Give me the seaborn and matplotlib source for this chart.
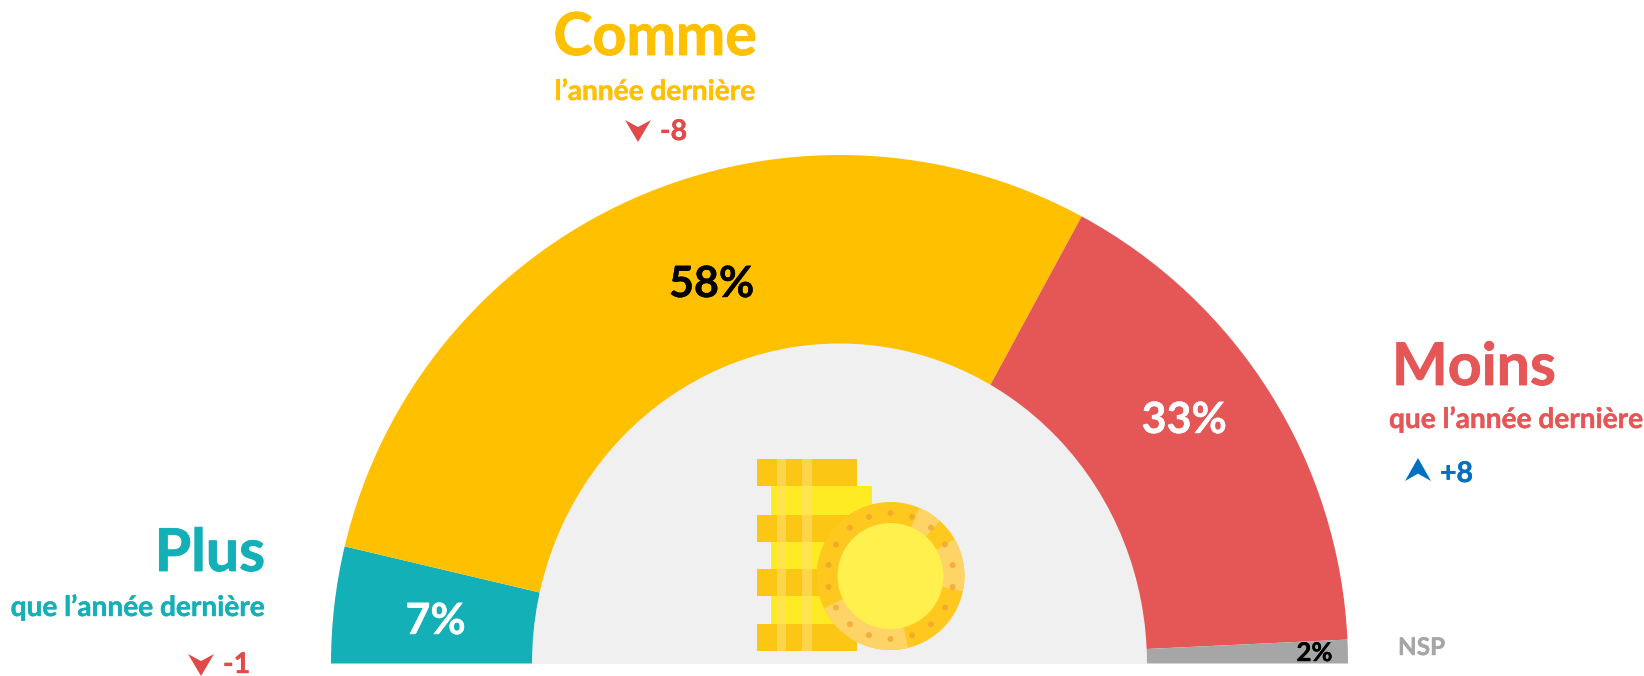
import numpy as np
import pandas as pd
import seaborn as sns
import matplotlib.pyplot as plt
import matplotlib.patheffects as pe
from matplotlib.patches import Circle, Ellipse, Polygon, Rectangle, Wedge

# ---- Data ----
categories = ["Plus", "Comme", "Moins", "NSP"]
shares = [7.4, 58.4, 32.7, 1.5]  # arc shares
pct_labels = ["7%", "58%", "33%", "2%"]
sub_labels = ["que l’année dernière", "l’année dernière", "que l’année dernière", ""]
deltas = ["-1", "-8", "+8", ""]

df = pd.DataFrame({"category": categories, "share": shares})

sns.set_theme(style="white")
plt.rcParams["font.family"] = ["Lato", "DejaVu Sans"]
plt.rcParams["font.weight"] = "bold"

colors = sns.color_palette(["#13B0B8", "#FFC000", "#E55757", "#A6A6A6"])
RED_ARROW = "#E24A4A"
BLUE = "#0070C0"
H = 676


def py(y):
    # reference pixels are measured from the top
    return H - y


fig = plt.figure(figsize=(16.44, 6.76), dpi=100)
ax = fig.add_axes([0, 0, 1, 1])

# half gauge: the shares fill half of the pie
cx, base, R = 839.5, 663.5, 508.5
ax.pie(df["share"] / 200, colors=colors, startangle=180, counterclock=False,
       normalize=False, radius=R, center=(cx, py(base)), frame=False,
       wedgeprops={"linewidth": 0})
ax.set_xlim(0, 1644)
ax.set_ylim(0, H)
ax.set_aspect("equal")
ax.axis("off")

# inner dial is slightly taller than wide
inner = Ellipse((cx, py(base)), 615, 640, fc="#F0F0F0", ec="none", zorder=3)
ax.add_patch(inner)
inner.set_clip_path(Rectangle((0, py(base)), 1644, H, transform=ax.transData))

# ---- Coins icon ----
stack_dark = "#FBC614"
stack_light = "#FFEB24"
for y0, y1 in [(486, 515), (542, 569), (596, 624)]:
    ax.add_patch(Rectangle((771, py(y1)), 101, y1 - y0, fc=stack_light, ec="none", zorder=4))
for y0, y1 in [(459, 486), (515, 542), (569, 596), (624, 651)]:
    ax.add_patch(Rectangle((757, py(y1)), 100, y1 - y0, fc=stack_dark, ec="none", zorder=4))
for x0, w in [(777, 9), (802, 10)]:
    ax.add_patch(Rectangle((x0, py(651)), w, 192, fc="#FFE070", ec="none", alpha=0.6, zorder=4))

coin = (890.5, py(576))
ax.add_patch(Circle(coin, 74, fc="#FFC81E", ec="none", zorder=5))
for a0, a1 in [(-12, 30), (48, 67), (206, 284)]:
    ax.add_patch(Wedge(coin, 74, a0, a1, fc="#FFD466", ec="none", zorder=5))
for a in np.arange(10, 370, 20):
    ax.add_patch(Circle((coin[0] + 63 * np.cos(np.radians(a)), coin[1] + 63 * np.sin(np.radians(a))),
                        3, fc="#F0A030", ec="none", alpha=0.7, zorder=6))
ax.add_patch(Circle(coin, 53, fc="#FFF04D", ec="none", zorder=7))


def label(x, y, s, size, color, ha="left", stroke=0.3):
    # Lato bold is lighter than the reference face, thicken it a little
    ax.text(x, py(y), s, fontsize=size, color=color, ha=ha, va="baseline", zorder=8,
            path_effects=[pe.withStroke(linewidth=stroke, foreground=color)])


def arrow(x, y0, y1, w, color):
    # navigation style arrow, tip at y1, notch near y0
    notch = y0 + (y1 - y0) * 0.32
    pts = [(x - w, y0), (x, notch), (x + w, y0), (x, y1)]
    ax.add_patch(Polygon([(a, py(b)) for a, b in pts], fc=color, ec="none", zorder=8))


# ---- Percent labels ----
label(435.5, 634, pct_labels[0], 31, "white", "center")
label(711.5, 297, pct_labels[1], 31, "black", "center")
label(1184, 433, pct_labels[2], 31, "white", "center")
label(1314.5, 661, pct_labels[3], 18.5, "black", "center")

# ---- Headings ----
label(265, 571, categories[0], 42.5, colors[0], "right", 0.6)
label(265, 616, sub_labels[0], 20.2, colors[0], "right")
arrow(201, 654, 676, 13, RED_ARROW)
label(223, 673, deltas[0], 20.5, RED_ARROW)

label(655, 55, categories[1], 42.5, colors[1], "center", 0.6)
label(655, 100, sub_labels[1], 20.2, colors[1], "center")
arrow(638, 120, 142, 13, RED_ARROW)
label(660, 140, deltas[1], 20.5, RED_ARROW)

label(1392, 385, categories[2], 42.5, colors[2], "left", 0.6)
label(1389, 428, sub_labels[2], 20.2, colors[2])
arrow(1418, 481, 458, 13, BLUE)
label(1440, 482, deltas[2], 20.5, BLUE)

label(1398, 655, categories[3], 17.5, colors[3])

fig.savefig("out.png", dpi=100)
plt.close(fig)
